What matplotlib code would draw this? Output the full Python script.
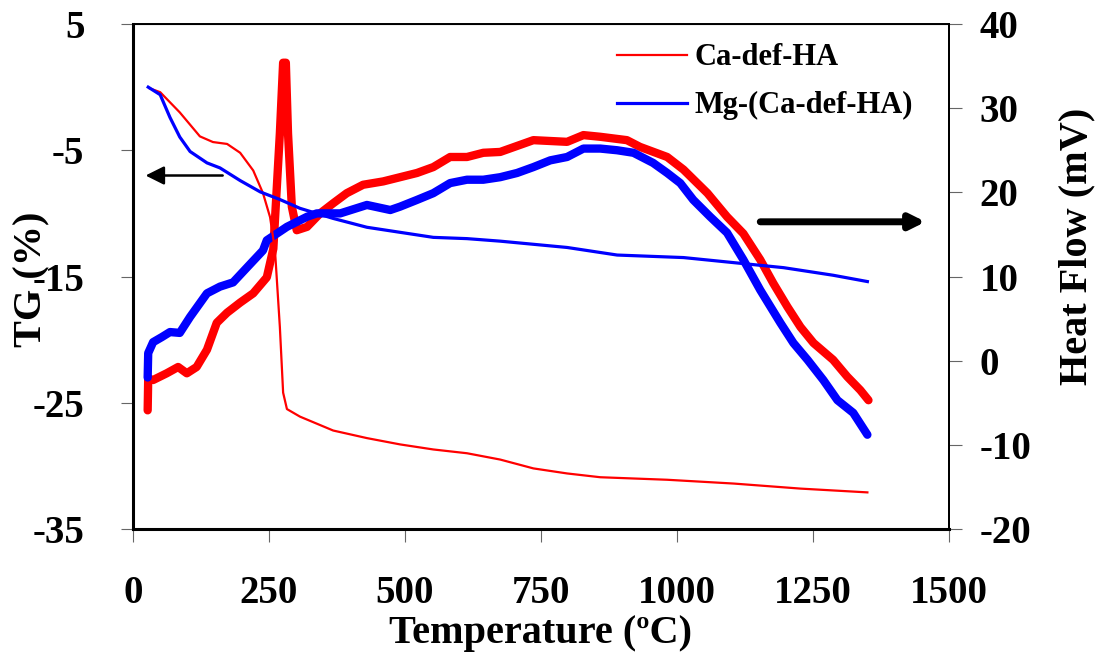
import numpy as np
import matplotlib.pyplot as plt

plt.rcParams["font.family"] = ["Liberation Serif", "DejaVu Serif"]
plt.rcParams["font.weight"] = "bold"
plt.rcParams["axes.unicode_minus"] = False

# TG curves (left axis, %)
tg_ca_t = [31, 50, 86, 123, 147, 173, 197, 221, 239, 252, 261, 270, 276, 283, 307,
           368, 430, 491, 552, 614, 675, 736, 798, 859, 982, 1104, 1227, 1350]
tg_ca = [-0.1, -0.4, -2.0, -3.9, -4.35, -4.5, -5.2, -6.6, -8.4, -10.3, -12.9, -19.0, -24.2,
         -25.5, -26.1, -27.2, -27.8, -28.3, -28.7, -29.0, -29.5, -30.2, -30.6, -30.9,
         -31.1, -31.4, -31.8, -32.1]

tg_mg_t = [28, 50, 68, 86, 105, 136, 160, 197, 234, 270, 307, 368, 430, 491, 552,
           614, 675, 798, 890, 1012, 1104, 1196, 1287, 1350]
tg_mg = [0.0, -0.6, -2.4, -3.95, -5.1, -6.0, -6.4, -7.4, -8.3, -8.9, -9.6, -10.4,
         -11.1, -11.5, -11.9, -12.0, -12.2, -12.7, -13.3, -13.5, -13.9, -14.3, -14.9, -15.4]

# Heat flow curves (right axis, mV)
hf_ca_t = [27, 28, 37, 62, 83, 99, 117, 136, 154, 173, 197, 221, 246, 258, 270, 276,
           281, 285, 292, 301, 320, 344, 368, 393, 423, 460, 491, 522, 552, 583, 614,
           644, 675, 736, 798, 828, 859, 908, 932, 982, 1012, 1056, 1092, 1122, 1153,
           1177, 1203, 1227, 1251, 1287, 1313, 1337, 1352]
hf_ca = [-5.9, -2.1, -2.3, -1.5, -0.75, -1.5, -0.75, 1.3, 4.5, 5.7, 6.9, 8.0, 9.9,
         13.3, 27.0, 35.4, 35.4, 27.0, 18.3, 15.5, 15.9, 17.5, 18.7, 19.9, 20.9, 21.3,
         21.8, 22.3, 23.0, 24.2, 24.2, 24.7, 24.8, 26.2, 26.0, 26.8, 26.6, 26.2, 25.4,
         24.2, 22.7, 19.9, 17.1, 15.1, 12.0, 9.2, 6.4, 4.0, 2.1, 0.1, -1.9, -3.5, -4.7]

hf_mg_t = [27, 28, 37, 53, 68, 86, 105, 136, 160, 184, 210, 239, 246, 283, 320, 338,
           381, 430, 473, 491, 522, 552, 583, 614, 644, 675, 706, 736, 767, 798, 828,
           859, 890, 920, 956, 982, 1006, 1030, 1061, 1092, 1122, 1153, 1190, 1214,
           1240, 1269, 1295, 1324, 1350]
hf_mg = [-2.0, 0.9, 2.2, 2.8, 3.4, 3.3, 5.2, 8.0, 8.8, 9.3, 11.1, 13.1, 14.3, 15.9,
         17.1, 17.5, 17.5, 18.5, 17.9, 18.3, 19.1, 19.9, 21.1, 21.5, 21.5, 21.8, 22.3,
         23.0, 23.8, 24.2, 25.2, 25.2, 25.0, 24.7, 23.5, 22.3, 21.1, 19.1, 17.1, 15.2,
         12.0, 8.4, 4.5, 2.1, 0.1, -2.3, -4.7, -6.2, -8.8]

x_ticks = [0, 250, 500, 750, 1000, 1250, 1500]
tg_ticks = [5, -5, -15, -25, -35]
hf_ticks = [40, 30, 20, 10, 0, -10, -20]

fig = plt.figure(figsize=(10.99, 6.56), dpi=100)
ax = fig.add_axes([0.121, 0.1936, 0.7425, 0.7698])
ax2 = ax.twinx()

ax2.plot(hf_ca_t, hf_ca, color="#ff0000", lw=6, solid_capstyle="round",
         solid_joinstyle="round")
ax2.plot(hf_mg_t, hf_mg, color="#0000ff", lw=6, solid_capstyle="round",
         solid_joinstyle="round")

# TG lines drawn on top, through the left axis
ax.set_zorder(ax2.get_zorder() + 1)
ax.patch.set_visible(False)
ax.plot(tg_ca_t, tg_ca, color="#ff0000", lw=1.6, label="Ca-def-HA")
ax.plot(tg_mg_t, tg_mg, color="#0000ff", lw=2.3, label="Mg-(Ca-def-HA)")

ax.set_xlim(0, 1500)
ax.set_ylim(-35, 5)
ax2.set_ylim(-20, 40)
ax.set_xticks(x_ticks)
ax.set_yticks(tg_ticks)
ax2.set_yticks(hf_ticks)

for a in (ax, ax2):
    a.tick_params(direction="out", length=9, width=0.8, color="#666666",
                  labelsize=28)
ax.tick_params(axis="x", pad=24)
ax.tick_params(axis="y", pad=26)
ax2.tick_params(axis="y", pad=13)
for lab in ax.get_xticklabels() + ax.get_yticklabels() + ax2.get_yticklabels():
    lab.set_fontweight("bold")

for s in ("left", "bottom"):
    ax.spines[s].set_linewidth(2.2)
ax.spines["top"].set_linewidth(1.4)
ax.spines["right"].set_linewidth(1.4)
ax2.spines["right"].set_linewidth(1.4)

ax.set_xlabel("Temperature (ºC)", fontsize=29, fontweight="bold", labelpad=2)
ax.set_ylabel("TG (%)", fontsize=29, fontweight="bold", va="center")
ax.yaxis.set_label_coords(-0.124, 0.495)
ax2.set_ylabel("Heat Flow (mV)", fontsize=29, fontweight="bold", va="center")
ax2.yaxis.set_label_coords(1.157, 0.56)

ax.legend(loc="upper right", bbox_to_anchor=(0.99, 1.016), frameon=False,
          handlelength=2.3, handletextpad=0.25, labelspacing=0.62,
          prop={"weight": "bold", "size": 22})

# direction arrows
ax.annotate("", xy=(18, -7.0), xytext=(170, -7.0),
            arrowprops=dict(arrowstyle="-|>", color="black", lw=1.8,
                            mutation_scale=28))
ax2.annotate("", xy=(1462, 16.5), xytext=(1148, 16.5),
             arrowprops=dict(arrowstyle="-|>", color="black", lw=5,
                             mutation_scale=22))

fig.savefig("out.png", dpi=100)
